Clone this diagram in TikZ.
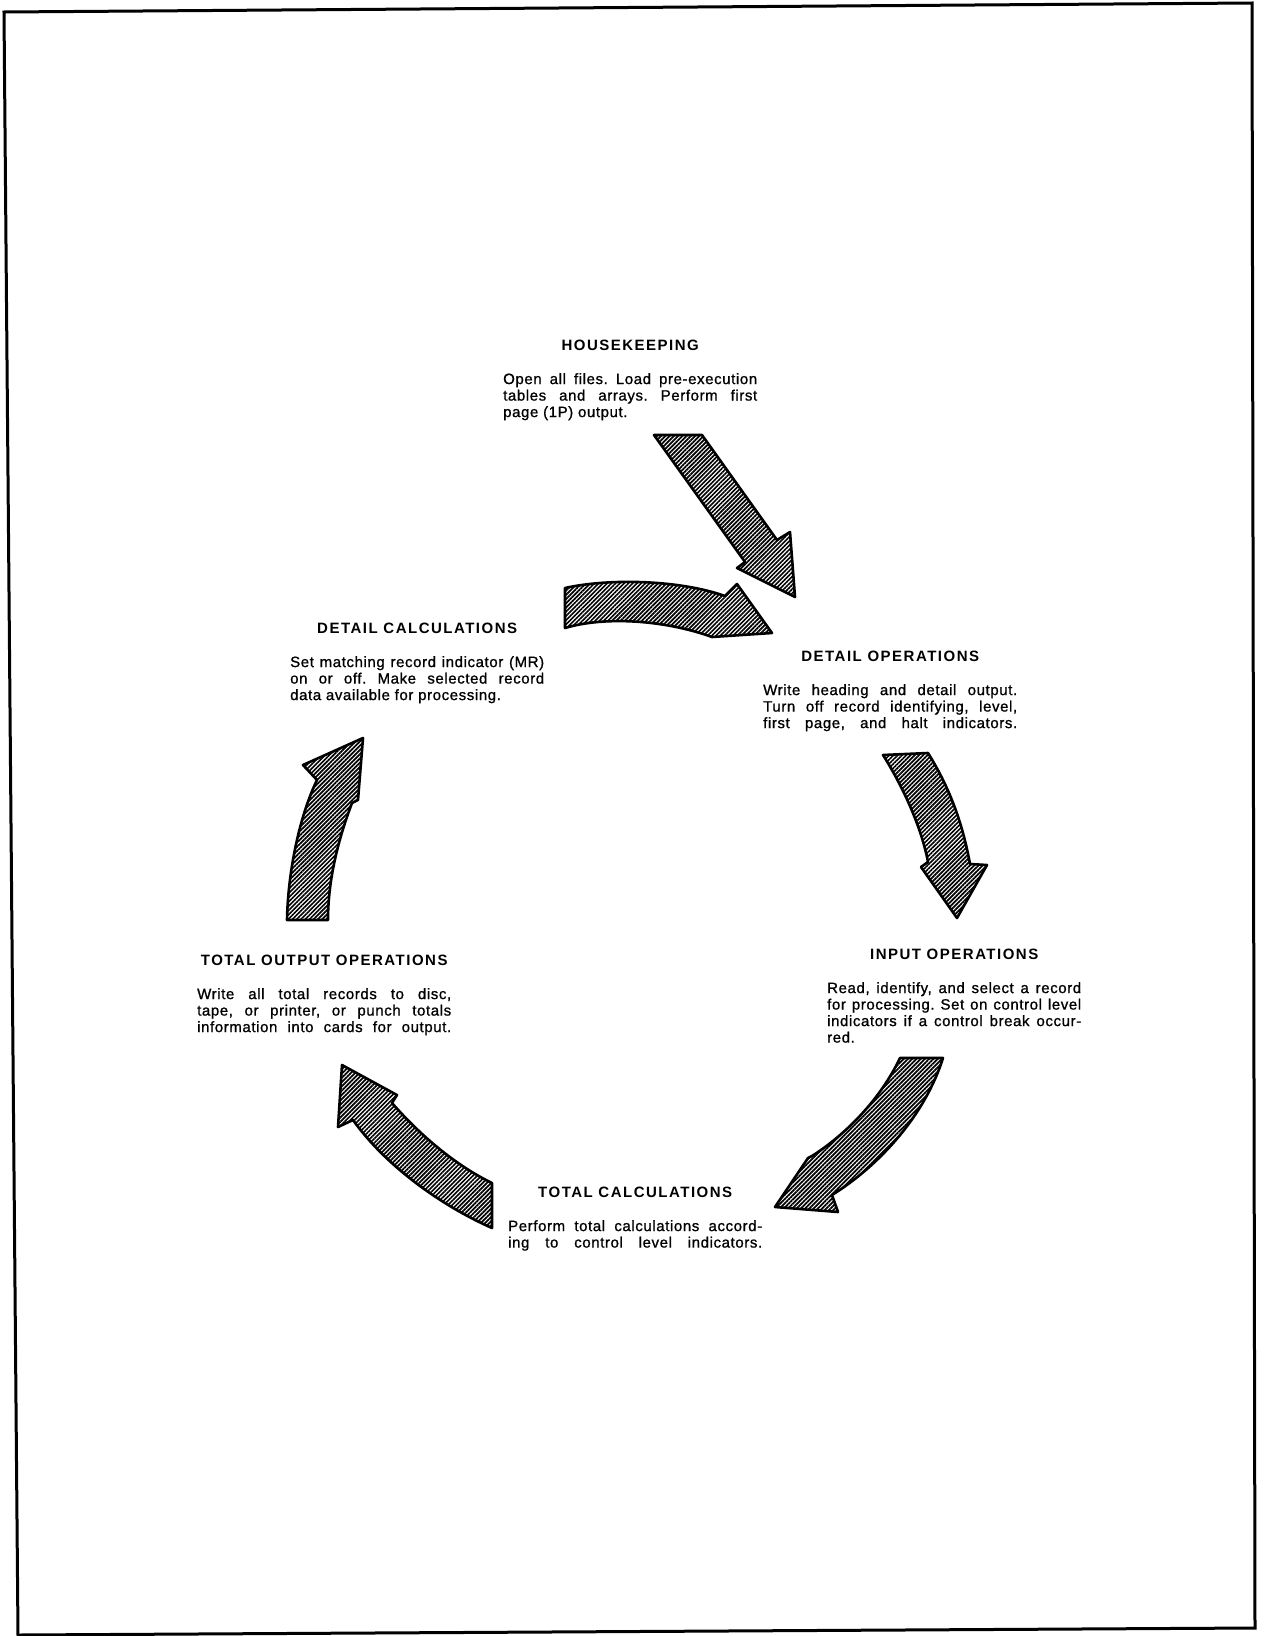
\documentclass[tikz,border=0pt]{standalone}
\usepackage{fontspec}
\setmainfont{Liberation Sans}
\newfontfamily\stagebodyfam[LetterSpace=4, FakeBold=1]{Liberation Sans}
\newfontfamily\stagetitlefam[LetterSpace=10]{Liberation Sans}
\usetikzlibrary{positioning, patterns.meta}
\frenchspacing
\newcommand\fullline{{\parfillskip=0pt\par}}

\tikzset{
  stagetitle/.style={font=\stagetitlefam\bfseries\fontsize{15}{16.5}\selectfont, inner sep=0pt},
  stagebody/.style={font=\stagebodyfam\fontsize{15}{16.5}\selectfont, text width=254pt, align=justify, inner sep=0pt, anchor=north west},
  cyclearrow/.style={draw, line width=2.6pt, line join=round, pattern={Lines[angle=45, distance=3pt, line width=1.7pt]}}
}

\begin{document}
\begin{tikzpicture}[x=1pt, y=-1pt]
\useasboundingbox (0,0) rectangle (1275,1636);

% Frame
\draw[line width=3pt] (4,12) -- (1252,3) -- (1255,1628) -- (18,1635) -- cycle;

% Stages
\node[stagebody] (hkbody) at (503,373) {Open all files. Load pre-execution\linebreak tables and arrays. Perform first\linebreak page (1P) output.};
\node[stagetitle, above=22pt of hkbody] (hk) {HOUSEKEEPING};

\node[stagebody] (dobody) at (763,684) {Write heading and detail output.\linebreak Turn off record identifying, level,\linebreak first page, and halt indicators.\fullline};
\node[stagetitle, above=22pt of dobody] (do) {DETAIL OPERATIONS};

\node[stagebody] (iobody) at (827,982) {Read, identify, and select a record\linebreak for processing. Set on control level\linebreak indicators if a control break occur-\linebreak red.};
\node[stagetitle, above=22pt of iobody] (io) {INPUT OPERATIONS};

\node[stagebody] (tcbody) at (508,1220) {Perform total calculations accord-\linebreak ing to control level indicators.\fullline};
\node[stagetitle, above=22pt of tcbody] (tc) {TOTAL CALCULATIONS};

\node[stagebody] (tobody) at (197,988) {Write all total records to disc,\linebreak tape, or printer, or punch totals\linebreak information into cards for output.\fullline};
\node[stagetitle, above=22pt of tobody] (to) {TOTAL OUTPUT OPERATIONS};

\node[stagebody] (dcbody) at (290,656) {Set matching record indicator (MR)\linebreak on or off. Make selected record\linebreak data available for processing.};
\node[stagetitle, above=22pt of dcbody] (dc) {DETAIL CALCULATIONS};

% Arrows
\draw[cyclearrow] (654,435) -- (745,562) -- (737,568) -- (795,597) -- (790,532) -- (777,540) -- (702,435) -- cycle;
\draw[cyclearrow] (565,588) .. controls (610,578) and (680,580) .. (725,596) -- (737,584) -- (772,633) -- (712,637) .. controls (665,620) and (605,616) .. (565,628) -- cycle;
\draw[cyclearrow] (883,755) .. controls (905,790) and (922,830) .. (928,862) -- (921,867) -- (957,918) -- (987,865) -- (970,864) .. controls (962,820) and (948,785) .. (928,753) -- cycle;
\draw[cyclearrow] (900,1058) .. controls (880,1100) and (845,1135) .. (812,1156) -- (808,1158) -- (775,1207) -- (838,1212) -- (832,1195) .. controls (880,1165) and (925,1115) .. (943,1058) -- cycle;
\draw[cyclearrow] (492,1183) .. controls (455,1165) and (420,1135) .. (392,1103) -- (397,1095) -- (342,1065) -- (338,1127) -- (353,1120) .. controls (385,1165) and (440,1205) .. (492,1228) -- cycle;
\draw[cyclearrow] (287,920) .. controls (288,870) and (300,815) .. (317,780) -- (303,765) -- (363,738) -- (358,800) -- (352,803) .. controls (338,840) and (328,880) .. (328,920) -- cycle;
\end{tikzpicture}
\end{document}
